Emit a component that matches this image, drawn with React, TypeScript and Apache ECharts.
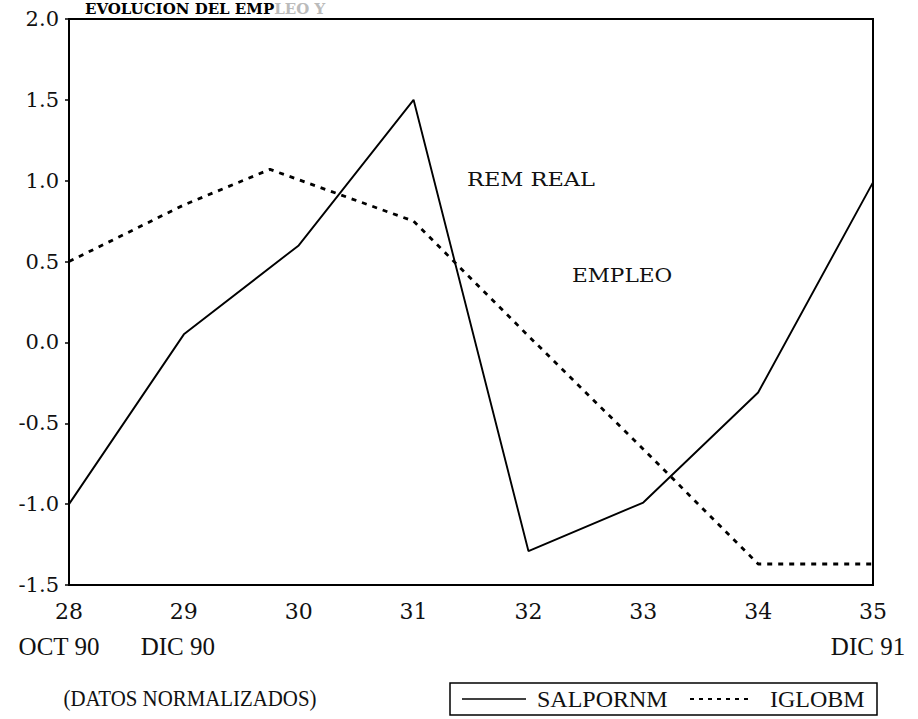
import React, { useEffect, useRef } from "react";
import * as echarts from "echarts";

const xTicks = [28, 29, 30, 31, 32, 33, 34, 35];
const salpornmX = [28, 29, 30, 31, 32, 33, 34, 35];
const salpornm = [-1.0, 0.05, 0.6, 1.5, -1.29, -0.99, -0.31, 0.99];
const iglobmX = [28, 29, 29.75, 31, 32, 33, 34, 35];
const iglobm = [0.5, 0.85, 1.07, 0.75, 0.04, -0.66, -1.37, -1.37];
const periodLabels = [
  { text: "OCT 90", at: 28, dx: -10 },
  { text: "DIC 90", at: 29, dx: -6 },
  { text: "DIC 91", at: 35, dx: -5 },
];
const seriesNames = ["SALPORNM", "IGLOBM"];

const SERIF = "'DejaVu Serif', serif";
const TIMES = "'Liberation Serif', serif";

export default function App() {
  const ref = useRef<HTMLDivElement>(null);
  useEffect(() => {
    document.body.style.margin = "0";
    const chart = echarts.init(ref.current!, null, { renderer: "svg" });
    const left = 69;
    const right = 873;
    const xPix = (v: number) => left + ((v - 28) / 7) * (right - left);
    const legY = 699;
    const option: any = {
      animation: false,
      backgroundColor: "#fff",
      grid: {
        left: left,
        right: 918 - right,
        top: 19,
        bottom: 719 - 585,
        show: true,
        borderColor: "#000",
        borderWidth: 2,
      },
      xAxis: {
        type: "value",
        min: 28,
        max: 35,
        interval: 1,
        axisLine: { show: true, onZero: false, lineStyle: { color: "#000", width: 2 } },
        axisTick: { show: false },
        splitLine: { show: false },
        axisLabel: {
          margin: 15,
          color: "#111",
          fontFamily: SERIF,
          fontSize: 22,
          formatter: (v: number) => (xTicks.includes(v) ? String(v) : ""),
        },
      },
      yAxis: {
        type: "value",
        min: -1.5,
        max: 2.0,
        interval: 0.5,
        axisLine: { show: true, onZero: false, lineStyle: { color: "#000", width: 2 } },
        axisTick: { show: true, inside: false, length: 4, lineStyle: { color: "#000", width: 1.5 } },
        splitLine: { show: false },
        axisLabel: {
          margin: 10,
          color: "#111",
          fontFamily: SERIF,
          fontSize: 21,
          formatter: (v: number) => v.toFixed(1),
        },
      },
      series: [
        {
          name: seriesNames[0],
          type: "line",
          symbol: "none",
          data: salpornmX.map((x, i) => [x, salpornm[i]]),
          lineStyle: { color: "#000", width: 1.9, type: "solid" },
          itemStyle: { color: "#000" },
        },
        {
          name: seriesNames[1],
          type: "line",
          symbol: "none",
          data: iglobmX.map((x, i) => [x, iglobm[i]]),
          lineStyle: { color: "#000", width: 2.8, type: [5, 6] },
          itemStyle: { color: "#000" },
        },
      ],
      graphic: [
        {
          type: "text",
          x: 85,
          y: 1,
          style: {
            text: "{a|EVOLUCION DEL EMP}{b|LEO Y}",
            rich: {
              a: { fontFamily: SERIF, fontWeight: "bold", fontSize: 15, fill: "#000" },
              b: { fontFamily: SERIF, fontWeight: "bold", fontSize: 15, fill: "#bbb" },
            },
          },
        },
        {
          type: "text",
          x: 467,
          y: 180,
          scaleX: 1.25,
          style: {
            text: "REM REAL",
            font: `18px ${SERIF}`,
            fill: "#111",
            textVerticalAlign: "middle",
          },
        },
        {
          type: "text",
          x: 572,
          y: 276,
          scaleX: 1.2,
          style: {
            text: "EMPLEO",
            font: `18px ${SERIF}`,
            fill: "#111",
            textVerticalAlign: "middle",
          },
        },
        ...periodLabels.map((p) => ({
          type: "text",
          x: xPix(p.at) + p.dx,
          y: 646,
          style: {
            text: p.text,
            font: `25px ${TIMES}`,
            fill: "#111",
            textAlign: "center",
            textVerticalAlign: "middle",
          },
        })),
        {
          type: "text",
          x: 190,
          y: 698,
          scaleX: 0.87,
          style: {
            text: "(DATOS NORMALIZADOS)",
            font: `24px ${TIMES}`,
            fill: "#111",
            textAlign: "center",
            textVerticalAlign: "middle",
          },
        },
        {
          type: "rect",
          shape: { x: 450, y: 683, width: 427, height: 32 },
          style: { fill: "none", stroke: "#000", lineWidth: 1.5 },
        },
        {
          type: "line",
          shape: { x1: 462, y1: legY, x2: 526, y2: legY },
          style: { stroke: "#000", lineWidth: 1.3 },
        },
        {
          type: "text",
          x: 537,
          y: legY,
          style: {
            text: seriesNames[0],
            font: `24px ${TIMES}`,
            fill: "#111",
            textVerticalAlign: "middle",
          },
        },
        {
          type: "line",
          shape: { x1: 690, y1: legY, x2: 752, y2: legY },
          style: { stroke: "#000", lineWidth: 2.2, lineDash: [4, 5] },
        },
        {
          type: "text",
          x: 770,
          y: legY,
          style: {
            text: seriesNames[1],
            font: `24px ${TIMES}`,
            fill: "#111",
            textVerticalAlign: "middle",
          },
        },
      ],
    };
    chart.setOption(option);
    return () => chart.dispose();
  }, []);
  return <div ref={ref} style={{ width: 918, height: 719 }} />;
}
